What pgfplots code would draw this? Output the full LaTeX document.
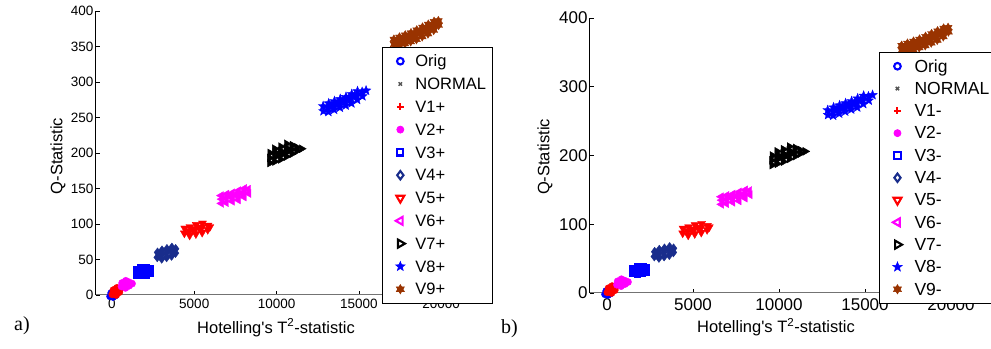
\documentclass[border=0pt]{standalone}
\usepackage{fontspec}
\setmainfont{Liberation Sans}
\newfontfamily\seriffont{Liberation Serif}
\usepackage{pgfplots}
\usepackage{pgfplotstable}
\pgfplotsset{compat=1.18}
\usetikzlibrary{plotmarks}

\definecolor{mblue}{RGB}{0,0,255}
\definecolor{mred}{RGB}{255,0,0}
\definecolor{mmag}{RGB}{255,0,255}
\definecolor{mnavy}{RGB}{25,45,140}
\definecolor{mbrown}{RGB}{153,51,0}
\definecolor{mgray}{RGB}{85,85,85}

\pgfdeclareplotmark{fstar}{%
  \pgfpathmoveto{\pgfpointpolar{90}{1.3\pgfplotmarksize}}%
  \pgfpathlineto{\pgfpointpolar{126}{0.55\pgfplotmarksize}}%
  \pgfpathlineto{\pgfpointpolar{162}{1.3\pgfplotmarksize}}%
  \pgfpathlineto{\pgfpointpolar{198}{0.55\pgfplotmarksize}}%
  \pgfpathlineto{\pgfpointpolar{234}{1.3\pgfplotmarksize}}%
  \pgfpathlineto{\pgfpointpolar{270}{0.55\pgfplotmarksize}}%
  \pgfpathlineto{\pgfpointpolar{306}{1.3\pgfplotmarksize}}%
  \pgfpathlineto{\pgfpointpolar{342}{0.55\pgfplotmarksize}}%
  \pgfpathlineto{\pgfpointpolar{18}{1.3\pgfplotmarksize}}%
  \pgfpathlineto{\pgfpointpolar{54}{0.55\pgfplotmarksize}}%
  \pgfpathclose\pgfusepathqfillstroke}
\pgfdeclareplotmark{hexa}{%
  \pgfpathmoveto{\pgfpointpolar{90}{\pgfplotmarksize}}%
  \pgfpathlineto{\pgfpointpolar{210}{\pgfplotmarksize}}%
  \pgfpathlineto{\pgfpointpolar{330}{\pgfplotmarksize}}%
  \pgfpathclose
  \pgfpathmoveto{\pgfpointpolar{270}{\pgfplotmarksize}}%
  \pgfpathlineto{\pgfpointpolar{30}{\pgfplotmarksize}}%
  \pgfpathlineto{\pgfpointpolar{150}{\pgfplotmarksize}}%
  \pgfpathclose\pgfusepathqfillstroke}

\pgfplotstableread{
x y
-120 -2
60 -3
150 1
-50 3
80 5
200 -1
}\tOrig
\pgfplotstableread{
x y
50 1
120 2
}\tNormal
\pgfplotstableread{
x y
20 1
90 7
260 0
250 6
300 10
450 4
480 8
160 3
}\tVa
\pgfplotstableread{
x y
580 12
620 17
820 10
800 15
840 20
1040 13
1030 18
1220 16
}\tVb
\pgfplotstableread{
x y
1480 29
1500 36
1760 28
1740 34
1770 39
2040 29
2020 35
2060 39
2280 31
2270 37
}\tVc
\pgfplotstableread{
x y
2750 53
2770 60
3020 51
3000 57
3040 63
3320 53
3300 59
3340 65
3620 55
3600 62
3640 67
3860 59
3870 65
}\tVd
\pgfplotstableread{
x y
4400 87
4420 94
4720 84
4700 90
4740 96
4900 92
5100 86
5080 93
5120 99
5300 95
5480 88
5460 95
5500 101
5820 92
5840 98
5950 96
}\tVe
\pgfplotstableread{
x y
6650 129
6670 135
6630 140
6940 130
6920 136
6960 142
7120 139
7300 132
7280 138
7320 144
7480 141
7660 134
7640 141
7680 147
7840 143
8020 138
8000 144
8040 150
8300 143
8280 149
}\tVf
\pgfplotstableread{
x y
9600 186
9580 193
9610 200
9900 188
9880 194
9910 201
9890 206
10080 197
10250 191
10270 197
10240 203
10260 209
10420 200
10600 195
10620 201
10590 207
10610 213
10780 204
10950 199
10930 205
10960 211
11250 203
11230 208
11520 206
}\tVg
\pgfplotstableread{
x y
12850 259
12830 266
13150 258
13130 264
13170 270
13320 266
13500 261
13480 267
13520 273
13680 269
13850 264
13830 270
13870 276
14030 273
14200 267
14180 273
14220 279
14380 276
14550 270
14530 277
14570 283
14730 280
14900 275
14880 281
14920 287
15220 280
15200 286
15440 288
}\tVh
\pgfplotstableread{
x y
17150 353
17130 360
17450 351
17430 357
17470 363
17620 359
17800 354
17780 360
17820 366
17980 362
18150 357
18130 363
18170 369
18320 366
18500 360
18480 367
18520 373
18680 370
18850 364
18830 371
18870 377
19030 374
19200 368
19180 375
19220 381
19380 378
19550 373
19530 379
19570 385
19850 380
19830 386
}\tVi

\newcommand{\allplots}{%
  \addplot[only marks, mark=*, mark size=3.5bp, mblue, forget plot] table {\tOrig};
  \addplot[only marks, mark=*, mark size=2.8bp, mgray, forget plot] table {\tNormal};
  \addplot[only marks, mark=*, mark size=3.6bp, mred, forget plot] table {\tVa};
  \addplot[only marks, mark=*, mark size=3.6bp, mmag, forget plot] table {\tVb};
  \addplot[only marks, mark=square*, mark size=3.4bp, mblue, forget plot] table {\tVc};
  \addplot[only marks, mark=diamond*, mark size=4.5bp, mnavy, forget plot] table {\tVd};
  \addplot[only marks, mark=triangle*, mark size=4.6bp, mred, mark options={rotate=180}, forget plot] table {\tVe};
  \addplot[only marks, mark=triangle*, mark size=4.6bp, mmag, mark options={rotate=90}, forget plot] table {\tVf};
  \addplot[only marks, mark=triangle*, mark size=4.6bp, black, mark options={rotate=-90}, forget plot] table {\tVg};
  \addplot[only marks, mark=fstar, mark size=3.8bp, mblue, forget plot] table {\tVh};
  \addplot[only marks, mark=hexa, mark size=4.6bp, mbrown, forget plot] table {\tVi};
}
\newcommand{\legendimages}[1]{%
  \addlegendimage{mark=o, mblue, mark size=3.3bp, line width=2.1bp}
  \addlegendentry{Orig}
  \addlegendimage{mark=x, mgray, mark size=2.4bp, line width=1.5bp}
  \addlegendentry{NORMAL}
  \addlegendimage{mark=+, mred, mark size=3.4bp, line width=2bp}
  \addlegendentry{V1#1}
  \addlegendimage{mark=*, mmag, mark size=3.5bp, line width=0.8bp}
  \addlegendentry{V2#1}
  \addlegendimage{mark=square, mblue, mark size=3.1bp, line width=2.1bp}
  \addlegendentry{V3#1}
  \addlegendimage{mark=diamond, mnavy, mark size=4.2bp, line width=2.1bp}
  \addlegendentry{V4#1}
  \addlegendimage{mark=triangle, mred, mark size=4.6bp, line width=2.1bp, mark options={rotate=180}}
  \addlegendentry{V5#1}
  \addlegendimage{mark=triangle, mmag, mark size=4.6bp, line width=2.1bp, mark options={rotate=90}}
  \addlegendentry{V6#1}
  \addlegendimage{mark=triangle, black, mark size=4.6bp, line width=2.1bp, mark options={rotate=-90}}
  \addlegendentry{V7#1}
  \addlegendimage{mark=fstar, mblue, mark size=3.8bp, line width=0.6bp}
  \addlegendentry{V8#1}
  \addlegendimage{mark=hexa, mbrown, mark size=4.6bp, line width=0.6bp}
  \addlegendentry{V9#1}
}

\pgfplotsset{
  matstyle/.style={
    scale only axis, axis x line*=bottom, axis y line*=left,
    tick align=inside, major tick length=4bp,
    xmin=-1000, xmax=23000, ymin=0, ymax=400,
    xtick={0,5000,10000,15000,20000}, scaled x ticks=false, scaled y ticks=false,
    /pgf/number format/1000 sep={}, /pgf/number format/assume math mode=true,
    every tick/.style={black, line width=0.6bp},
    x axis line style={black!55, line width=1bp},
    y axis line style={black, line width=0.8bp},
    clip=false,
    legend cell align=left,
    legend image code/.code={\path (0bp,0bp) (20bp,0bp); \draw[##1] plot coordinates {(11bp,0bp)};},
    xlabel={Hotelling\textquotesingle s T\textsuperscript{2}-statistic},
    ylabel={Q-Statistic},
  }
}

\begin{document}
\begin{tikzpicture}
\useasboundingbox (0,0) rectangle (991bp,349bp);

\begin{axis}[matstyle,
  at={(95.5bp,54bp)}, anchor=south west, width=395bp, height=284bp,
  ytick={0,50,...,400},
  tick label style={font=\fontsize{13.5bp}{15bp}\selectfont},
  xticklabel style={inner sep=4bp},
  yticklabel style={inner sep=2bp},
  xlabel style={at={(axis description cs:0.457,-0.134)}, anchor=base, font=\fontsize{16.5bp}{18bp}\selectfont, inner sep=0pt},
  ylabel style={at={(axis description cs:-0.095,0.489)}, anchor=center, font=\fontsize{16.5bp}{18bp}\selectfont, inner sep=0pt},
  legend style={at={(0.725,0.873)}, anchor=north west, draw=black, line width=0.8bp, fill=white,
    inner xsep=6bp, inner ysep=6bp, row sep=7.3bp, column sep=5bp,
    font=\fontsize{16.5bp}{18bp}\selectfont,
    nodes={inner sep=0pt, text height=13.5bp, text depth=2bp}},
]
\allplots
\legendimages{+}
\end{axis}

\begin{axis}[matstyle,
  at={(589.8bp,56bp)}, anchor=south west, width=412.8bp, height=275bp,
  ytick={0,100,...,400},
  tick label style={font=\fontsize{17bp}{19bp}\selectfont},
  xticklabel style={inner sep=5bp},
  yticklabel style={inner sep=2bp},
  xlabel style={at={(axis description cs:0.451,-0.145)}, anchor=base, font=\fontsize{16.5bp}{18bp}\selectfont, inner sep=0pt},
  ylabel style={at={(axis description cs:-0.1085,0.495)}, anchor=center, font=\fontsize{16.5bp}{18bp}\selectfont, inner sep=0pt},
  legend style={at={(0.7006,0.876)}, anchor=north west, draw=black, line width=0.8bp, fill=white,
    inner xsep=6bp, inner ysep=6bp, row sep=6.8bp, column sep=7bp,
    font=\fontsize{17.5bp}{19bp}\selectfont,
    nodes={inner sep=0pt, text height=13.5bp, text depth=2bp}},
]
\allplots
\legendimages{-}
\end{axis}

\node[anchor=base west, inner sep=0pt, font=\seriffont\fontsize{20bp}{22bp}\selectfont] at (14bp,19bp) {a)};
\node[anchor=base west, inner sep=0pt, font=\seriffont\fontsize{20bp}{22bp}\selectfont] at (501bp,16bp) {b)};
\end{tikzpicture}
\end{document}
